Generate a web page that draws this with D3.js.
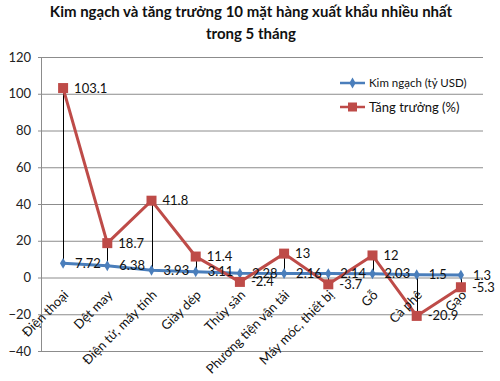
<!DOCTYPE html>
<html><head><meta charset="utf-8">
<script src="https://cdn.jsdelivr.net/npm/d3@7/dist/d3.min.js"></script>
<style>body{margin:0;background:#fff}svg{display:block;font-family:Lato,"Open Sans",sans-serif}</style>
</head><body><svg id="c" width="500" height="381"></svg>
<script>
const categories = ["Điện thoại","Dệt may","Điện tử, máy tính","Giày dép","Thủy sản","Phương tiện vận tải","Máy móc, thiết bị","Gỗ","Cà phê","Gạo"];
const kimNgach = [7.72,6.38,3.93,3.11,2.28,2.16,2.14,2.03,1.5,1.3];
const tangTruong = [103.1,18.7,41.8,11.4,-2.4,13,-3.7,12,-20.9,-5.3];
const yTicks = [-40,-20,0,20,40,60,80,100,120];
const titleLines = ["Kim ngạch và tăng trưởng 10 mặt hàng xuất khẩu nhiều nhất","trong 5 tháng"];
const seriesNames = ["Kim ngạch (tỷ USD)","Tăng trưởng (%)"];

const svg = d3.select("#c");
const L=41, R=483, T=57, B=351;
const x = d3.scaleBand().domain(categories).range([L,R]);
const y = d3.scaleLinear().domain([-40,120]).range([B,T]);
const cx = d => x(d)+x.bandwidth()/2;
const blue="#4a7ebb", red="#be4b48";

svg.append("g").selectAll("text").data(titleLines).join("text")
  .attr("x",251).attr("y",(d,i)=>17+i*22).attr("text-anchor","middle")
  .attr("font-weight","bold").attr("font-size",15).attr("fill","#111").text(d=>d);

// grid
svg.append("g").selectAll("line").data(yTicks).join("line")
  .attr("x1",L-3).attr("x2",R).attr("y1",d=>y(d)+0.5).attr("y2",d=>y(d)+0.5)
  .attr("stroke","#8c8c8c").attr("stroke-width",1);
svg.append("line").attr("x1",L+0.5).attr("x2",L+0.5).attr("y1",T).attr("y2",B).attr("stroke","#8c8c8c");
const yAxis = d3.axisLeft(y).tickValues(yTicks).tickSize(0).tickPadding(10);
const ga = svg.append("g").attr("transform",`translate(${L},0)`).call(yAxis);
ga.select(".domain").remove();
ga.selectAll("text").attr("font-size",13).attr("fill","#222").attr("font-family","Lato,sans-serif");

// drop lines
svg.append("g").selectAll("line").data(categories).join("line")
  .attr("x1",d=>Math.round(cx(d))+0.5).attr("x2",d=>Math.round(cx(d))+0.5)
  .attr("y1",(d,i)=>y(kimNgach[i])).attr("y2",(d,i)=>y(tangTruong[i]))
  .attr("stroke","#000").attr("stroke-width",1);

// blue line
const line = d3.line().x((d,i)=>cx(categories[i])).y(d=>y(d));
svg.append("path").datum(kimNgach).attr("d",line).attr("fill","none").attr("stroke",blue).attr("stroke-width",3);
svg.append("g").selectAll("path").data(kimNgach).join("path")
  .attr("d",d3.symbol(d3.symbolDiamond,34)())
  .attr("transform",(d,i)=>`translate(${cx(categories[i])},${y(d)})`).attr("fill",blue);

// red line
svg.append("path").datum(tangTruong).attr("d",line).attr("fill","none").attr("stroke",red).attr("stroke-width",3);
svg.append("g").selectAll("rect").data(tangTruong).join("rect")
  .attr("x",(d,i)=>cx(categories[i])-5).attr("y",d=>y(d)-5).attr("width",10).attr("height",10).attr("fill",red);

// labels
svg.append("g").selectAll("text").data(kimNgach).join("text")
  .attr("x",(d,i)=>cx(categories[i])+12).attr("y",d=>y(d)).attr("dy","0.35em")
  .attr("font-size",13).attr("fill","#111").text(d=>d);
svg.append("g").selectAll("text").data(tangTruong).join("text")
  .attr("x",(d,i)=>cx(categories[i])+11).attr("y",d=>y(d)).attr("dy","0.35em")
  .attr("font-size",13).attr("fill","#111").text(d=>d);

// category labels
svg.append("g").selectAll("text").data(categories).join("text")
  .attr("transform",d=>`translate(${cx(d)+3},${y(0)+15}) rotate(-45)`)
  .attr("text-anchor","end").attr("dy","0.35em")
  .attr("font-size",13).attr("fill","#111").text(d=>d);

// legend
const lg = svg.append("g");
[[83,blue,seriesNames[0],11.5],[107,red,seriesNames[1],13]].forEach(([ly,c,t,fs],k)=>{
  lg.append("line").attr("x1",340).attr("x2",365).attr("y1",ly).attr("y2",ly).attr("stroke",c).attr("stroke-width",2.5);
  if(k===0) lg.append("path").attr("d",d3.symbol(d3.symbolDiamond,34)()).attr("transform",`translate(352.5,${ly})`).attr("fill",c);
  else lg.append("rect").attr("x",348).attr("y",ly-4.5).attr("width",9).attr("height",9).attr("fill",c);
  lg.append("text").attr("x",369).attr("y",ly).attr("dy","0.35em").attr("font-size",fs).attr("fill","#111").text(t);
});
</script></body></html>
